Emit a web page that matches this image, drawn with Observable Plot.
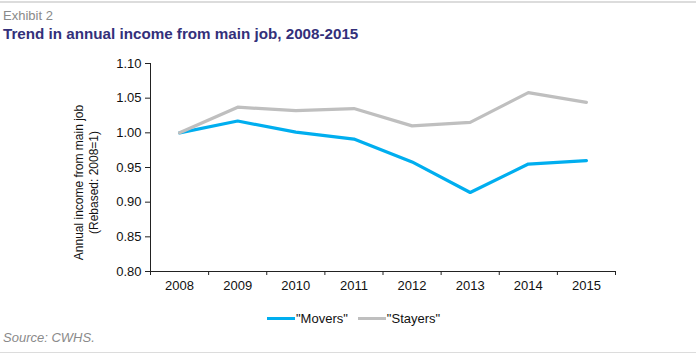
<!DOCTYPE html>
<html><head><meta charset="utf-8">
<script src="https://cdn.jsdelivr.net/npm/d3@7"></script>
<script src="https://cdn.jsdelivr.net/npm/@observablehq/plot@0.6"></script>
<style>
body{margin:0;background:#fff;font-family:"Liberation Sans",Arial,sans-serif;}
#wrap{position:relative;width:696px;height:355px;overflow:hidden;}
.abs{position:absolute;white-space:nowrap;}
</style></head>
<body><div id="wrap"></div>
<script>
const years = [2008, 2009, 2010, 2011, 2012, 2013, 2014, 2015];
const movers = [1.000, 1.017, 1.001, 0.991, 0.958, 0.914, 0.955, 0.960];
const stayers = [1.000, 1.037, 1.032, 1.035, 1.010, 1.015, 1.058, 1.044];
const yTicks = [0.80, 0.85, 0.90, 0.95, 1.00, 1.05, 1.10];
const seriesNames = ['"Movers"', '"Stayers"'];
const seriesColors = ["#00aeef", "#bfbfbf"];
const yLabel = "Annual income from main job\n(Rebased: 2008=1)";

const data = [];
years.forEach((yr, i) => {
  data.push({year: yr, value: movers[i], series: seriesNames[0]});
  data.push({year: yr, value: stayers[i], series: seriesNames[1]});
});
const bounds = years.map(y => y - 0.5).concat([years[years.length - 1] + 0.5]);

const wrap = document.getElementById("wrap");
wrap.innerHTML = `
<div class="abs" style="left:0;top:1px;width:696px;height:2px;background:#dcdcdc"></div>
<div class="abs" style="left:3px;top:8px;font-size:13px;color:#8a8a8a">Exhibit 2</div>
<div class="abs" style="left:3px;top:25px;font-size:15.2px;font-weight:bold;color:#33307a">Trend in annual income from main job, 2008-2015</div>
<div class="abs" style="left:3px;top:330px;font-size:13px;font-style:italic;color:#8a8a8a">Source: CWHS.</div>
<div class="abs" style="left:0;top:352px;width:696px;height:1px;background:#dcdcdc"></div>
`;

const plot = Plot.plot({
  width: 696,
  height: 250,
  marginTop: 13,
  marginBottom: 29,
  marginLeft: 150,
  marginRight: 81,
  style: {fontFamily: '"Liberation Sans", Arial, sans-serif', fontSize: "13px", color: "#111", background: "transparent"},
  x: {domain: [bounds[0], bounds[bounds.length - 1]], axis: null},
  y: {domain: [0.80, 1.10], axis: null},
  color: {domain: seriesNames, range: seriesColors},
  marks: [
    Plot.axisY({ticks: yTicks, tickFormat: d3.format(".2f"), tickSize: 5, tickPadding: 4, stroke: "#222", fontSize: 13, label: null}),
    Plot.ruleX([bounds[0]], {stroke: "#222"}),
    Plot.ruleY([0.80], {stroke: "#222"}),
    Plot.axisX({ticks: bounds, tickFormat: () => "", tickSize: 4, stroke: "#222", label: null}),
    Plot.axisX({ticks: years, tickFormat: d => String(d), tickSize: 0, tickPadding: 9, fontSize: 13, label: null}),
    Plot.line(data, {x: "year", y: "value", z: "series", stroke: "series", strokeWidth: 3.2, strokeLinejoin: "round"}),
    Plot.text([yLabel], {frameAnchor: "left", rotate: -90, dx: -65, dy: 15, textAnchor: "middle", lineAnchor: "middle", fontSize: 12, lineHeight: 1.3, fill: "#111"})
  ]
});
plot.style.position = "absolute";
plot.style.left = "0px";
plot.style.top = "50px";
wrap.appendChild(plot);

// legend
const legend = document.createElement("div");
legend.className = "abs";
legend.style.cssText = "left:267px;top:311px;font-size:13px;color:#111;display:flex;align-items:center;";
legend.innerHTML = seriesNames.map((n, i) =>
  `<span style="display:inline-block;width:28px;height:3px;background:${seriesColors[i]};margin-right:1px"></span><span style="margin-right:${i === 0 ? 10 : 0}px">${n}</span>`
).join("");
wrap.appendChild(legend);
</script>
</body></html>
